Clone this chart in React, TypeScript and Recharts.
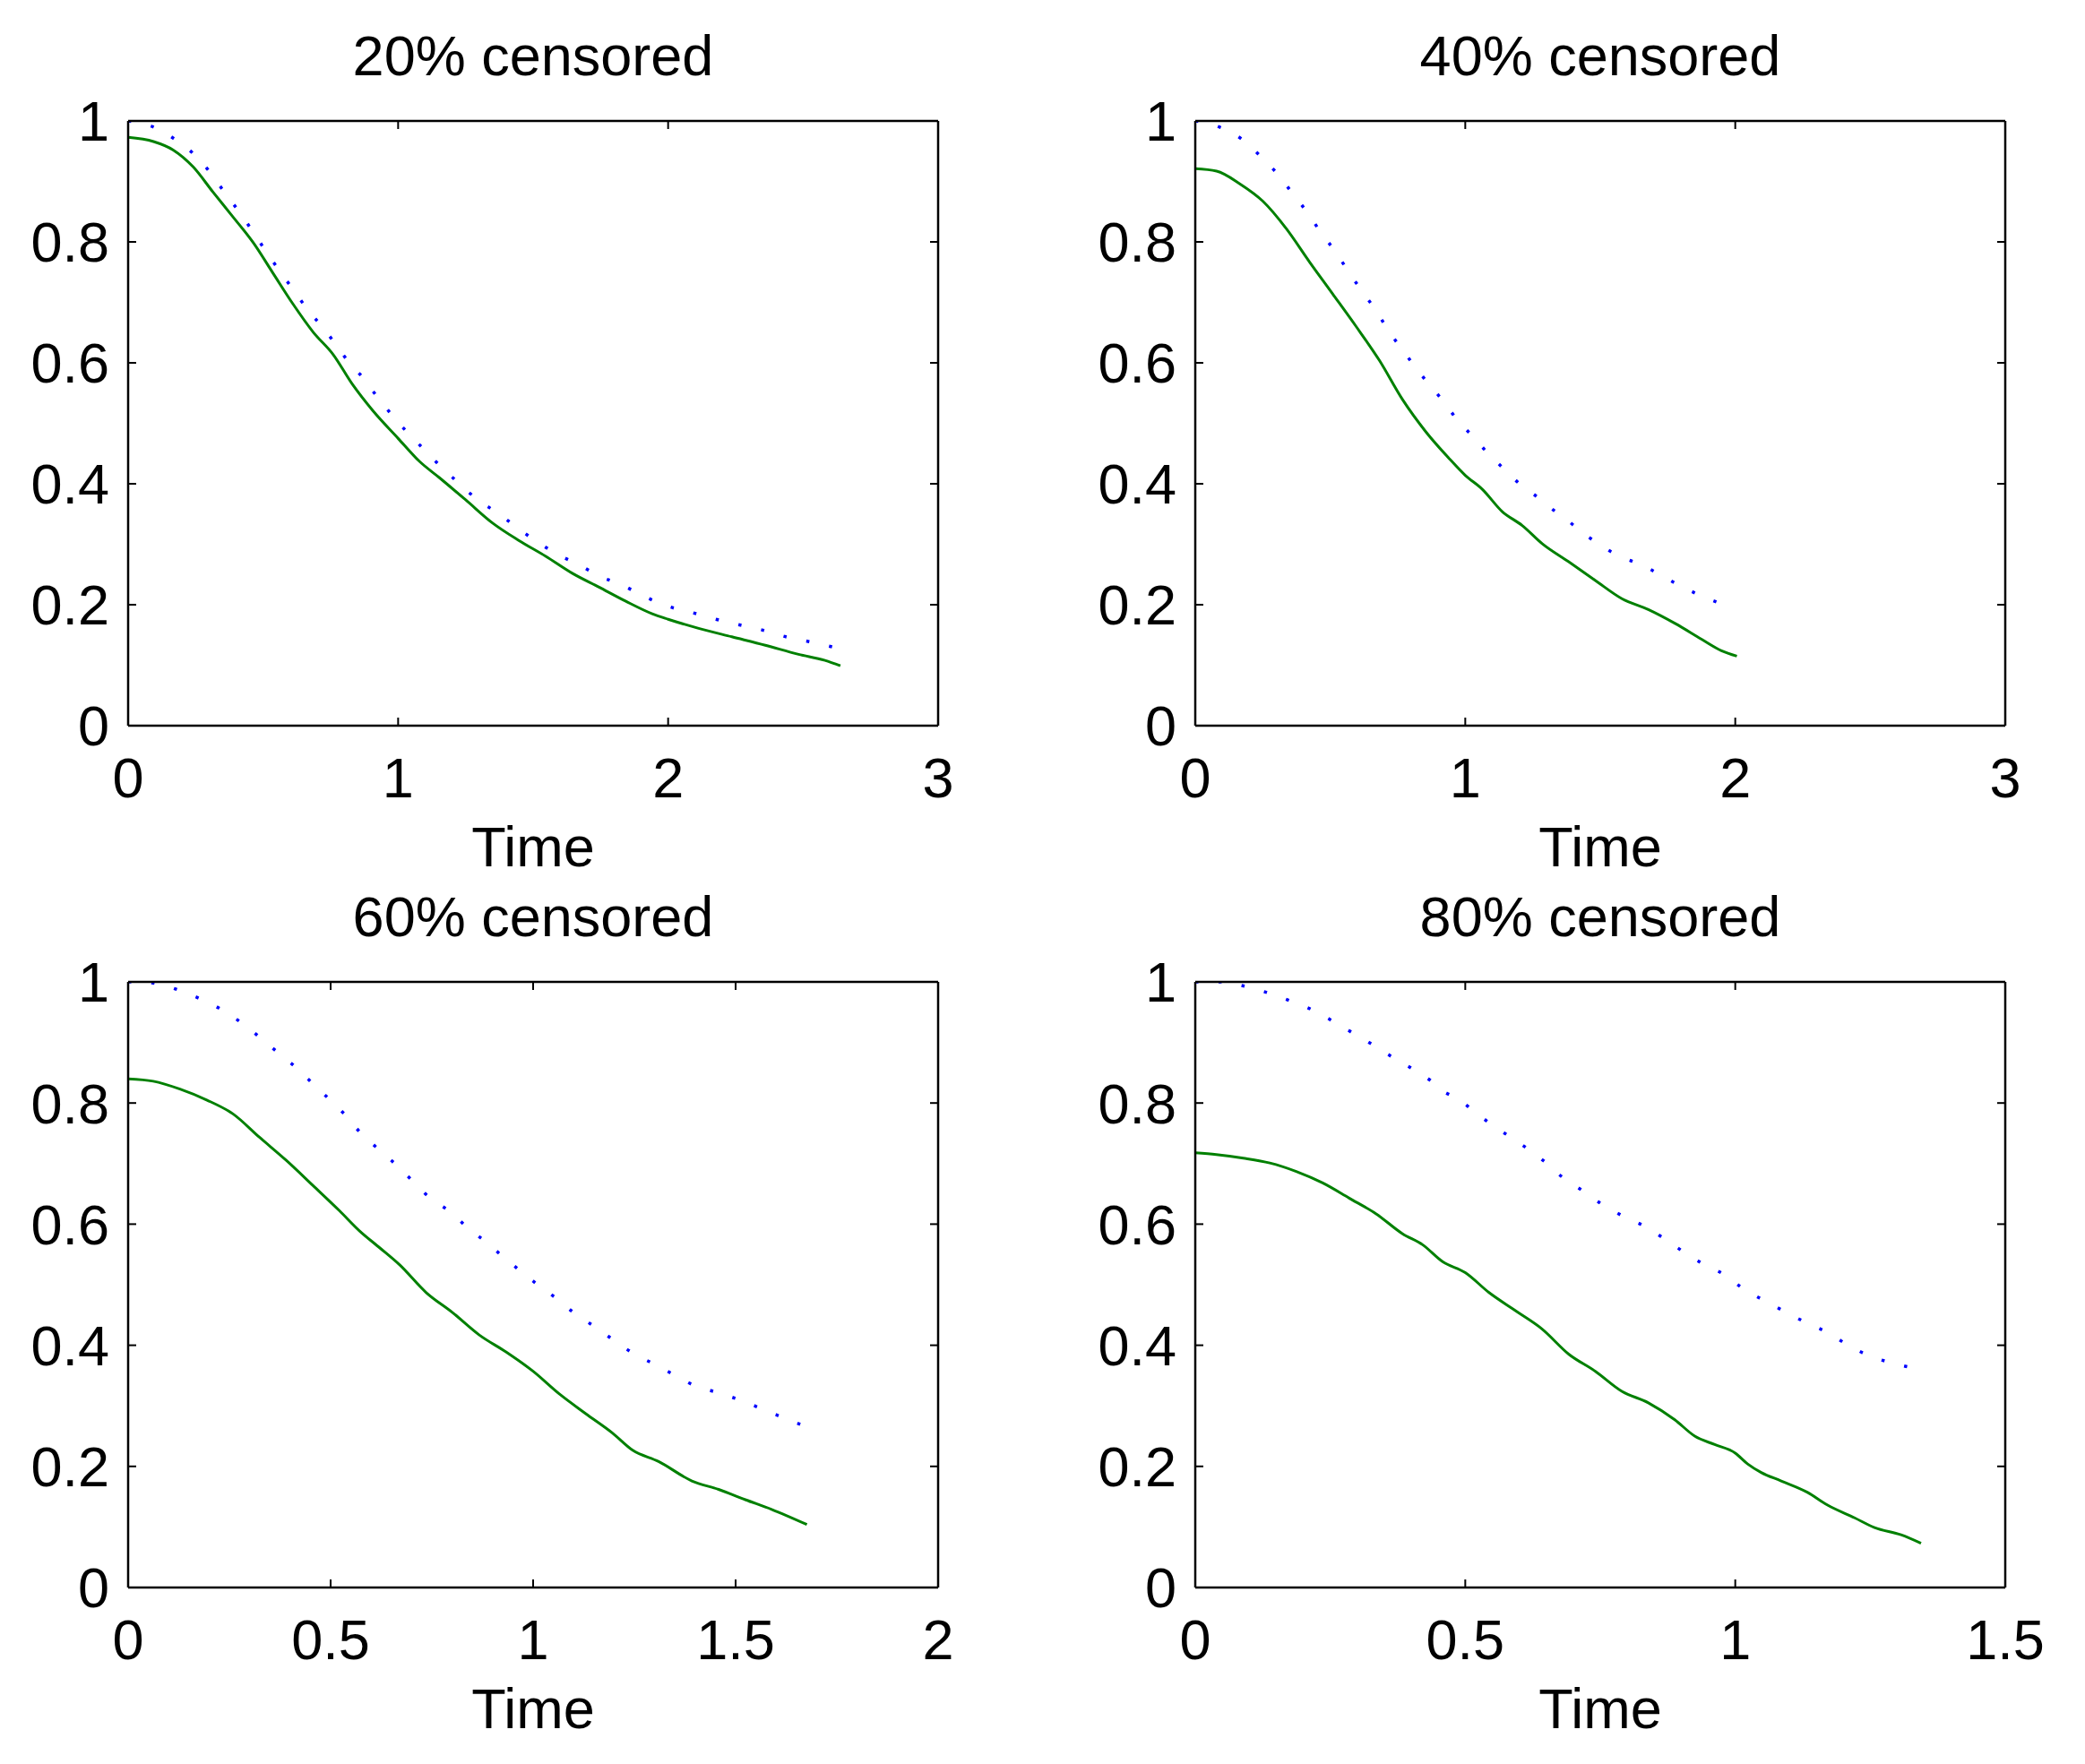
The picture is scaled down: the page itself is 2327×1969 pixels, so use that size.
import React from 'react';
import { LineChart, Line, XAxis, YAxis } from 'recharts';

// ---------- data ----------
const titles = ['20% censored', '40% censored', '60% censored', '80% censored'];
const xLabel = 'Time';
const yTicks = [0, 0.2, 0.4, 0.6, 0.8, 1];
const xTicks20 = [0, 1, 2, 3];
const xTicks40 = [0, 1, 2, 3];
const xTicks60 = [0, 0.5, 1, 1.5, 2];
const xTicks80 = [0, 0.5, 1, 1.5];

// 20% censored
const g20T = [0, 0.094, 0.167, 0.241, 0.315, 0.389, 0.463, 0.537, 0.611, 0.685, 0.759, 0.833, 0.906, 1.0, 1.079, 1.153, 1.251, 1.35, 1.448, 1.547, 1.645, 1.744, 1.842, 1.941, 2.0, 2.113, 2.236, 2.36, 2.483, 2.581, 2.638];
const g20S = [0.973, 0.966, 0.952, 0.924, 0.882, 0.841, 0.799, 0.748, 0.697, 0.651, 0.614, 0.563, 0.521, 0.475, 0.437, 0.41, 0.373, 0.335, 0.306, 0.28, 0.252, 0.229, 0.206, 0.185, 0.176, 0.161, 0.147, 0.133, 0.118, 0.108, 0.099];
const b20T = [0, 0.099, 0.172, 0.239, 0.298, 0.357, 0.419, 0.468, 0.52, 0.571, 0.621, 0.67, 0.724, 0.776, 0.828, 0.865, 0.919, 0.973, 1.03, 1.091, 1.155, 1.222, 1.288, 1.377, 1.451, 1.522, 1.591, 1.67, 1.746, 1.823, 1.906, 2.01, 2.089, 2.177, 2.261, 2.35, 2.436, 2.522, 2.611];
const b20S = [1.0, 0.989, 0.97, 0.947, 0.918, 0.882, 0.845, 0.813, 0.778, 0.746, 0.715, 0.685, 0.657, 0.626, 0.595, 0.578, 0.546, 0.516, 0.487, 0.459, 0.43, 0.402, 0.376, 0.349, 0.324, 0.302, 0.283, 0.266, 0.247, 0.234, 0.215, 0.196, 0.187, 0.176, 0.167, 0.158, 0.147, 0.139, 0.13];

// 40% censored
const g40T = [0, 0.079, 0.165, 0.251, 0.337, 0.423, 0.509, 0.596, 0.682, 0.768, 0.854, 0.94, 1.0, 1.063, 1.137, 1.211, 1.285, 1.383, 1.482, 1.58, 1.678, 1.777, 1.875, 1.949, 2.006];
const g40S = [0.921, 0.917, 0.896, 0.867, 0.822, 0.767, 0.714, 0.66, 0.604, 0.539, 0.486, 0.442, 0.414, 0.391, 0.354, 0.331, 0.301, 0.271, 0.24, 0.21, 0.192, 0.169, 0.143, 0.124, 0.115];
const b40T = [0, 0.094, 0.172, 0.239, 0.303, 0.359, 0.416, 0.463, 0.517, 0.566, 0.615, 0.667, 0.716, 0.768, 0.822, 0.861, 0.916, 0.97, 1.026, 1.083, 1.142, 1.201, 1.27, 1.334, 1.363, 1.427, 1.501, 1.573, 1.652, 1.725, 1.797, 1.873, 1.952];
const b40S = [1.0, 0.989, 0.97, 0.943, 0.913, 0.881, 0.848, 0.817, 0.785, 0.752, 0.72, 0.688, 0.653, 0.621, 0.589, 0.567, 0.538, 0.506, 0.479, 0.451, 0.425, 0.4, 0.377, 0.354, 0.345, 0.322, 0.298, 0.28, 0.266, 0.249, 0.231, 0.215, 0.201];

// 60% censored
const g60T = [0, 0.062, 0.128, 0.194, 0.259, 0.325, 0.391, 0.456, 0.522, 0.571, 0.621, 0.67, 0.736, 0.801, 0.867, 0.933, 1.0, 1.064, 1.13, 1.196, 1.245, 1.31, 1.392, 1.458, 1.524, 1.589, 1.676];
const g60S = [0.84, 0.836, 0.823, 0.805, 0.782, 0.743, 0.705, 0.664, 0.622, 0.589, 0.561, 0.533, 0.487, 0.454, 0.417, 0.389, 0.357, 0.32, 0.287, 0.255, 0.227, 0.208, 0.176, 0.162, 0.145, 0.129, 0.104];
const b60T = [0, 0.03, 0.095, 0.149, 0.204, 0.255, 0.304, 0.345, 0.391, 0.409, 0.45, 0.494, 0.535, 0.575, 0.616, 0.66, 0.7, 0.744, 0.8, 0.841, 0.883, 0.926, 0.97, 1.013, 1.056, 1.1, 1.158, 1.204, 1.251, 1.302, 1.351, 1.4, 1.455, 1.509, 1.565, 1.619, 1.673];
const b60S = [1.0, 1.0, 0.993, 0.98, 0.964, 0.944, 0.92, 0.897, 0.872, 0.862, 0.836, 0.808, 0.781, 0.75, 0.725, 0.699, 0.673, 0.644, 0.618, 0.592, 0.571, 0.546, 0.522, 0.499, 0.478, 0.454, 0.428, 0.406, 0.385, 0.368, 0.35, 0.333, 0.322, 0.31, 0.295, 0.28, 0.266];

// 80% censored
const g80T = [0, 0.039, 0.089, 0.138, 0.187, 0.236, 0.285, 0.335, 0.384, 0.421, 0.458, 0.5, 0.544, 0.593, 0.642, 0.692, 0.741, 0.79, 0.839, 0.888, 0.925, 0.962, 1.0, 1.023, 1.048, 1.085, 1.134, 1.171, 1.221, 1.258, 1.307, 1.344];
const g80S = [0.718, 0.715, 0.709, 0.701, 0.687, 0.668, 0.643, 0.617, 0.584, 0.566, 0.538, 0.52, 0.487, 0.457, 0.427, 0.385, 0.357, 0.324, 0.305, 0.277, 0.25, 0.236, 0.222, 0.204, 0.19, 0.176, 0.157, 0.136, 0.115, 0.099, 0.087, 0.073];
const b80T = [0, 0.046, 0.091, 0.134, 0.178, 0.221, 0.257, 0.293, 0.329, 0.363, 0.401, 0.437, 0.453, 0.488, 0.521, 0.554, 0.587, 0.619, 0.65, 0.682, 0.716, 0.753, 0.795, 0.833, 0.87, 0.903, 0.941, 0.979, 1.014, 1.053, 1.091, 1.132, 1.171, 1.211, 1.25, 1.294, 1.341];
const b80S = [1.0, 1.0, 0.993, 0.982, 0.968, 0.952, 0.934, 0.915, 0.896, 0.877, 0.857, 0.836, 0.823, 0.806, 0.783, 0.761, 0.742, 0.722, 0.701, 0.676, 0.656, 0.633, 0.612, 0.596, 0.575, 0.555, 0.534, 0.517, 0.494, 0.474, 0.456, 0.437, 0.421, 0.399, 0.382, 0.37, 0.36];

// ---------- helpers ----------
const zip = (t: number[], s: number[]) => t.map((v, i) => ({ t: v, s: s[i] }));

const FONT = '"Liberation Sans", Arial, Helvetica, sans-serif';
const FS = 63;
const AXIS_W = 2.5;
const TICK = -9;

type PanelProps = {
  title: string;
  xTicks: number[];
  green: { t: number; s: number }[];
  blue: { t: number; s: number }[];
  left: number;
  top: number;
  width: number;
  height: number;
  yAxisW: number;
  rightM: number;
  topH: number;
  bottomH: number;
};

function Panel(p: PanelProps) {
  const xMax = p.xTicks[p.xTicks.length - 1];
  const axisLine = { stroke: '#000', strokeWidth: AXIS_W };
  const tickLine = { stroke: '#000', strokeWidth: 2 };
  const tickStyle = { fill: '#000', fontSize: FS, fontFamily: FONT };
  const titleLabel = (props: any) => {
    const vb = props.viewBox || {};
    return (
      <text x={vb.x + vb.width / 2} y={vb.y + vb.height - 51} textAnchor="middle" fontSize={FS} fontFamily={FONT} fill="#000">
        {p.title}
      </text>
    );
  };
  const timeLabel = (props: any) => {
    const vb = props.viewBox || {};
    return (
      <text x={vb.x + vb.width / 2} y={vb.y + 157} textAnchor="middle" fontSize={FS} fontFamily={FONT} fill="#000">
        {xLabel}
      </text>
    );
  };
  return (
    <div style={{ position: 'absolute', left: p.left, top: p.top, width: p.width, height: p.height }}>
      <LineChart width={p.width} height={p.height} margin={{ top: 0, left: 0, right: p.rightM, bottom: 0 }}>
        <XAxis
          xAxisId="b"
          type="number"
          dataKey="t"
          domain={[0, xMax]}
          ticks={p.xTicks}
          interval={0}
          orientation="bottom"
          height={p.bottomH}
          axisLine={axisLine}
          tickLine={tickLine}
          tickSize={TICK}
          tickMargin={44}
          tick={tickStyle}
          allowDataOverflow
          label={timeLabel}
        />
        <XAxis
          xAxisId="t"
          type="number"
          dataKey="t"
          domain={[0, xMax]}
          ticks={p.xTicks}
          interval={0}
          orientation="top"
          height={p.topH}
          axisLine={axisLine}
          tickLine={tickLine}
          tickSize={TICK}
          tickFormatter={() => ''}
          tick={tickStyle}
          allowDataOverflow
          label={titleLabel}
        />
        <YAxis
          yAxisId="l"
          type="number"
          domain={[0, 1]}
          ticks={yTicks}
          interval={0}
          orientation="left"
          width={p.yAxisW}
          axisLine={axisLine}
          tickLine={tickLine}
          tickSize={TICK}
          tickMargin={30}
          tick={tickStyle}
          tickFormatter={(v: number) => String(v)}
          allowDataOverflow
        />
        <YAxis
          yAxisId="r"
          type="number"
          domain={[0, 1]}
          ticks={yTicks}
          interval={0}
          orientation="right"
          width={1}
          axisLine={axisLine}
          tickLine={tickLine}
          tickSize={TICK}
          tickFormatter={() => ''}
          tick={tickStyle}
          allowDataOverflow
        />
        <Line
          xAxisId="b"
          yAxisId="l"
          data={p.blue}
          dataKey="s"
          type="monotone"
          stroke="#0000ff"
          strokeWidth={3.5}
          strokeDasharray="3.5 22.5"
          strokeLinecap="butt"
          dot={false}
          activeDot={false}
          isAnimationActive={false}
        />
        <Line
          xAxisId="b"
          yAxisId="l"
          data={p.green}
          dataKey="s"
          type="monotone"
          stroke="#008000"
          strokeWidth={3}
          dot={false}
          activeDot={false}
          isAnimationActive={false}
        />
      </LineChart>
    </div>
  );
}

export default function App() {
  return (
    <div style={{ position: 'absolute', left: 0, top: 0, width: 2327, height: 1969, background: '#fff' }}>
      <Panel title={titles[0]} xTicks={xTicks20} green={zip(g20T, g20S)} blue={zip(b20T, b20S)}
        left={0} top={0} width={1163} height={985} yAxisW={143} rightM={115} topH={135} bottomH={175} />
      <Panel title={titles[1]} xTicks={xTicks40} green={zip(g40T, g40S)} blue={zip(b40T, b40S)}
        left={1163} top={0} width={1164} height={985} yAxisW={171} rightM={88} topH={135} bottomH={175} />
      <Panel title={titles[2]} xTicks={xTicks60} green={zip(g60T, g60S)} blue={zip(b60T, b60S)}
        left={0} top={985} width={1163} height={984} yAxisW={143} rightM={115} topH={111} bottomH={197} />
      <Panel title={titles[3]} xTicks={xTicks80} green={zip(g80T, g80S)} blue={zip(b80T, b80S)}
        left={1163} top={985} width={1164} height={984} yAxisW={171} rightM={88} topH={111} bottomH={197} />
    </div>
  );
}
